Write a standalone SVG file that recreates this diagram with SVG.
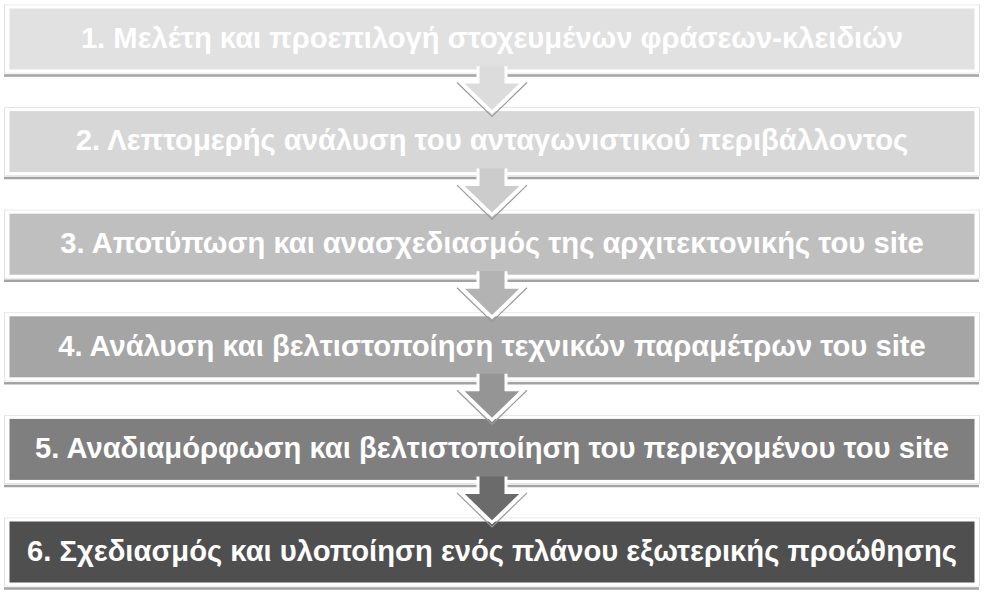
<svg xmlns="http://www.w3.org/2000/svg" width="985" height="598" viewBox="0 0 985 598">
<style>
.bar{stroke:#ffffff;stroke-width:3}
.edge{fill:none;stroke:#e4e4e4;stroke-width:1}
.shadow{stroke:#a3a3a3;stroke-width:2.5}
.lbl{font-family:"Liberation Sans",Arial,sans-serif;font-weight:bold;font-size:29.2px;fill:#ffffff;text-anchor:middle}
.arr{stroke:#ffffff;stroke-width:3;stroke-linejoin:miter}
.vline{fill:none;stroke:#9a9a9a;stroke-width:1.2}
</style>
<rect width="985" height="598" fill="#ffffff"/>
<g id="node1">
<rect class="edge" x="4.5" y="5" width="975" height="68"/>
<rect class="bar" x="8" y="7" width="968" height="64" fill="#e1e1e1"/>
<line class="shadow" x1="4" y1="75.5" x2="979" y2="75.5"/>
<text class="lbl" x="492" y="47.8">1. Μελέτη και προεπιλογή στοχευμένων φράσεων-κλειδιών</text>
</g>
<g id="node2">
<rect class="edge" x="4.5" y="107.6" width="975" height="68"/>
<rect class="bar" x="8" y="109.6" width="968" height="64" fill="#d7d7d7"/>
<line class="shadow" x1="4" y1="178.1" x2="979" y2="178.1"/>
<text class="lbl" x="492" y="150.4">2. Λεπτομερής ανάλυση του ανταγωνιστικού περιβάλλοντος</text>
</g>
<g id="node3">
<rect class="edge" x="4.5" y="210.2" width="975" height="68"/>
<rect class="bar" x="8" y="212.2" width="968" height="64" fill="#bfbfbf"/>
<line class="shadow" x1="4" y1="280.7" x2="979" y2="280.7"/>
<text class="lbl" x="492" y="253">3. Αποτύπωση και ανασχεδιασμός της αρχιτεκτονικής του site</text>
</g>
<g id="node4">
<rect class="edge" x="4.5" y="312.8" width="975" height="68"/>
<rect class="bar" x="8" y="314.8" width="968" height="64" fill="#a5a5a5"/>
<line class="shadow" x1="4" y1="383.3" x2="979" y2="383.3"/>
<text class="lbl" x="492" y="355.6">4. Ανάλυση και βελτιστοποίηση τεχνικών παραμέτρων του site</text>
</g>
<g id="node5">
<rect class="edge" x="4.5" y="415.4" width="975" height="68"/>
<rect class="bar" x="8" y="417.4" width="968" height="64" fill="#7f7f7f"/>
<line class="shadow" x1="4" y1="485.9" x2="979" y2="485.9"/>
<text class="lbl" x="492" y="458.2">5. Αναδιαμόρφωση και βελτιστοποίηση του περιεχομένου του site</text>
</g>
<g id="node6">
<rect class="edge" x="4.5" y="518" width="975" height="68"/>
<rect class="bar" x="8" y="520" width="968" height="64" fill="#4f4f4f"/>
<line class="shadow" x1="4" y1="588.5" x2="979" y2="588.5"/>
<text class="lbl" x="492" y="560.8">6. Σχεδιασμός και υλοποίηση ενός πλάνου εξωτερικής προώθησης</text>
</g>
<g id="connectors">
<g transform="translate(0,0)">
<path class="arr" fill="#dcdcdc" d="M478,66 L478,82 L461,82 L492,112 L523,82 L506,82 L506,66"/>
<path class="vline" d="M457,82.5 L492,116.5 L527,82.5"/>
</g>
<g transform="translate(0,102.6)">
<path class="arr" fill="#cccccc" d="M478,66 L478,82 L461,82 L492,112 L523,82 L506,82 L506,66"/>
<path class="vline" d="M457,82.5 L492,116.5 L527,82.5"/>
</g>
<g transform="translate(0,205.2)">
<path class="arr" fill="#b3b3b3" d="M478,66 L478,82 L461,82 L492,112 L523,82 L506,82 L506,66"/>
<path class="vline" d="M457,82.5 L492,116.5 L527,82.5"/>
</g>
<g transform="translate(0,307.8)">
<path class="arr" fill="#959595" d="M478,66 L478,82 L461,82 L492,112 L523,82 L506,82 L506,66"/>
<path class="vline" d="M457,82.5 L492,116.5 L527,82.5"/>
</g>
<g transform="translate(0,410.4)">
<path class="arr" fill="#6b6b6b" d="M478,66 L478,82 L461,82 L492,112 L523,82 L506,82 L506,66"/>
<path class="vline" d="M457,82.5 L492,116.5 L527,82.5"/>
</g>
</g>
</svg>
